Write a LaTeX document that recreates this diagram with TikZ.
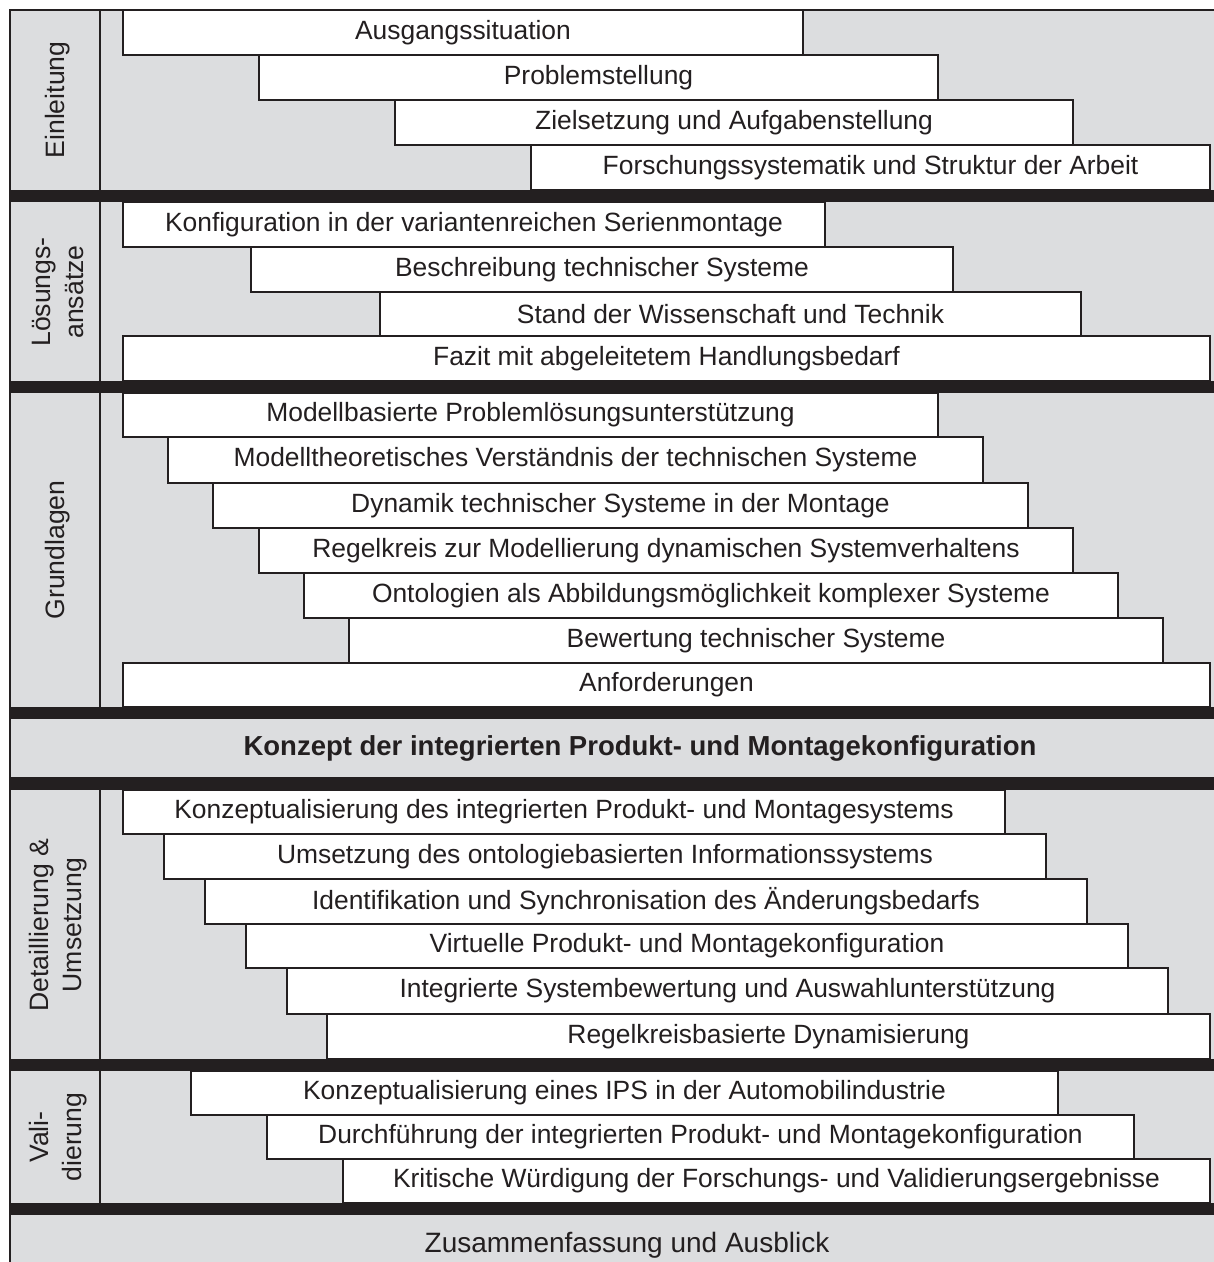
\documentclass[tikz,border=0pt]{standalone}
\usepackage{fontspec}
\setmainfont{Liberation Sans}
\definecolor{bggrey}{HTML}{DCDDDF}
\definecolor{ink}{HTML}{231F20}
\tikzset{
  stepbox/.style={draw=ink, fill=white, line width=2pt, inner sep=0pt, rectangle,
    font=\fontsize{26.4}{30}\selectfont, text=ink},
  sectlabel/.style={rotate=90, align=center, inner sep=0pt,
    font=\fontsize{26.6}{33}\selectfont, text=ink},
  barline/.style={fill=ink, draw=none},
  frameline/.style={draw=ink, line width=2pt},
}
\newcommand\bx[6]{%
  \node[stepbox, minimum width={#3pt-#2pt}, minimum height={#5pt-#4pt}]
    (#1) at ({(#2+#3)/2},{(#4+#5)/2}) {#6};}
\newcommand\sepbar[3]{\fill[barline] (10,#2) rectangle (1214,#3) coordinate (#1);}
\begin{document}
\begin{tikzpicture}[x=1pt,y=-1pt]
\useasboundingbox (0,0) rectangle (1214,1262);
\fill[bggrey] (10,10) rectangle (1214,1262);
% Einleitung
\bx{e1}{123}{803}{10}{55}{Ausgangssituation}
\bx{e2}{259}{938}{55}{100}{Problemstellung}
\bx{e3}{395}{1073}{100}{145}{Zielsetzung und Aufgabenstellung}
\bx{e4}{531}{1210}{145}{190}{Forschungssystematik und Struktur der Arbeit}
% Loesungsansaetze
\bx{l1}{123}{825}{202}{247}{Konfiguration in der variantenreichen Serienmontage}
\bx{l2}{251}{953}{247}{292}{Beschreibung technischer Systeme}
\bx{l3}{380}{1081}{292}{336}{Stand der Wissenschaft und Technik}
\bx{l4}{123}{1210}{336}{381}{Fazit mit abgeleitetem Handlungsbedarf}
% Grundlagen
\bx{g1}{123}{938}{393}{437}{Modellbasierte Problemlösungsunterstützung}
\bx{g2}{168}{983}{437}{483}{Modelltheoretisches Verständnis der technischen Systeme}
\bx{g3}{213}{1028}{483}{528}{Dynamik technischer Systeme in der Montage}
\bx{g4}{259}{1073}{528}{573}{Regelkreis zur Modellierung dynamischen Systemverhaltens}
\bx{g5}{304}{1118}{573}{618}{Ontologien als Abbildungsmöglichkeit komplexer Systeme}
\bx{g6}{349}{1163}{618}{663}{Bewertung technischer Systeme}
\bx{g7}{123}{1210}{663}{707}{Anforderungen}
% Detaillierung
\bx{d1}{123}{1005}{790}{834}{Konzeptualisierung des integrierten Produkt- und Montagesystems}
\bx{d2}{164}{1046}{834}{879}{Umsetzung des ontologiebasierten Informationssystems}
\bx{d3}{205}{1087}{879}{924}{Identifikation und Synchronisation des Änderungsbedarfs}
\bx{d4}{246}{1128}{924}{968}{Virtuelle Produkt- und Montagekonfiguration}
\bx{d5}{287}{1168}{968}{1014}{Integrierte Systembewertung und Auswahlunterstützung}
\bx{d6}{327}{1210}{1014}{1059}{Regelkreisbasierte Dynamisierung}
% Validierung
\bx{v1}{191}{1058}{1071}{1115}{Konzeptualisierung eines IPS in der Automobilindustrie}
\bx{v2}{267}{1134}{1115}{1159}{Durchführung der integrierten Produkt- und Montagekonfiguration}
\bx{v3}{343}{1210}{1159}{1203}{Kritische Würdigung der Forschungs- und Validierungsergebnisse}
% frame lines
\draw[frameline] (10,1262) -- (10,10) -- (1214,10);
\draw[frameline] (100,10) -- (100,707);
\draw[frameline] (100,790) -- (100,1203);
% bars
\sepbar{b1}{190}{202}
\sepbar{b2}{381}{393}
\sepbar{b3}{707}{719}
\sepbar{b4}{777}{790}
\sepbar{b5}{1059}{1071}
\sepbar{b6}{1203}{1215}
% section labels
\node[sectlabel] (s1) at (58,100) {Einleitung};
\node[sectlabel] (s2) at (58,292) {Lösungs-\\ansätze};
\node[sectlabel] (s3) at (58,550) {Grundlagen};
\node[sectlabel] (s4) at (58,925) {Detaillierung \&\\Umsetzung};
\node[sectlabel] (s5) at (58,1137) {Vali-\\dierung};
\node[font=\fontsize{27.5}{30}\selectfont\bfseries, text=ink, inner sep=0pt] (k) at (640,748) {Konzept der integrierten Produkt- und Montagekonfiguration};
\node[font=\fontsize{28}{30}\selectfont, text=ink, inner sep=0pt] (z) at (627,1245) {Zusammenfassung und Ausblick};
\end{tikzpicture}
\end{document}
